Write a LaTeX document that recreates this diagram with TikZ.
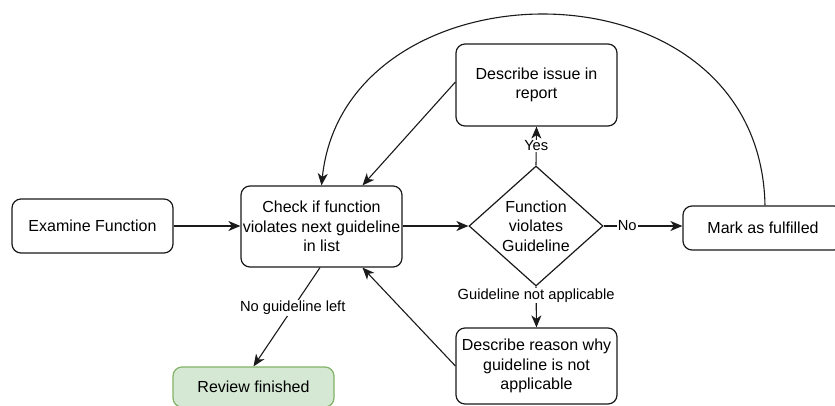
\documentclass[tikz,border=0pt]{standalone}
\usepackage{fontspec}
\setmainfont{Liberation Sans}
\usetikzlibrary{shapes.geometric,arrows.meta}
\definecolor{greenfill}{HTML}{D5E8D4}
\definecolor{greenline}{HTML}{82B366}
\definecolor{linecol}{HTML}{1A1A1A}
\begin{document}
\begin{tikzpicture}[x=1pt,y=-1pt,
  box/.style={draw=linecol, line width=1.2pt, rounded corners=9pt, align=center, inner sep=0pt,
    minimum width=161pt, font=\fontsize{16}{19.5}\selectfont},
  greenbox/.style={box, fill=greenfill, draw=greenline},
  dec/.style={draw=linecol, line width=1.2pt, shape=diamond, aspect=1.117, align=center, inner sep=0pt,
    minimum width=134pt, minimum height=120pt, font=\fontsize{16}{19.5}\selectfont},
  conn/.style={draw=linecol, line width=1.1pt, -{Stealth[length=12pt,width=10pt,inset=3.5pt]}},
  lbl/.style={fill=white, inner sep=1pt, font=\fontsize{14.7}{17}\selectfont}]
\path[use as bounding box, clip] (0,0) rectangle (835,405);
\fill[white] (0,0) rectangle (835,405);

\node[box, minimum height=54pt] (examine) at (92.5,226) {Examine Function};
\node[box, minimum height=81pt] (check) at (321.5,226.5) {Check if function\\violates next guideline\\in list};
\node[dec] (dia) at (536,226) {Function\\violates\\Guideline};
\node[box, minimum height=82pt] (issue) at (536.5,85) {Describe issue in\\report};
\node[box, minimum width=160pt, minimum height=44pt] (mark) at (763,228) {Mark as fulfilled};
\node[greenbox, minimum height=40pt] (review) at (253.5,387) {Review finished};
\node[box, minimum height=76pt] (reason) at (536.5,366) {Describe reason why\\guideline is not\\applicable};

\draw[conn] (examine.east) -- (check.west |- examine.east);
\draw[conn] (check.east |- dia.west) -- (dia.west);
\draw[conn] (dia.east) -- node[lbl, pos=0.3] {No} (mark.west |- dia.east);
\draw[conn] (dia.north) -- node[lbl, pos=0.5] {Yes} (issue.south);
\draw[conn] (dia.south) -- node[lbl, pos=0.22] {Guideline not applicable} (reason.north);
\draw[conn] ([xshift=2pt]mark.north) .. controls (760,-48) and (345,-42) .. (check.north);
\draw[conn] ([yshift=3pt]issue.west) -- ([xshift=41pt]check.north);
\draw[conn] (reason.west) -- ([xshift=41pt]check.south);
\draw[conn] ([xshift=-1.5pt]check.south) -- node[lbl, pos=0.41] {No guideline left} (review.north);
\end{tikzpicture}
\end{document}
